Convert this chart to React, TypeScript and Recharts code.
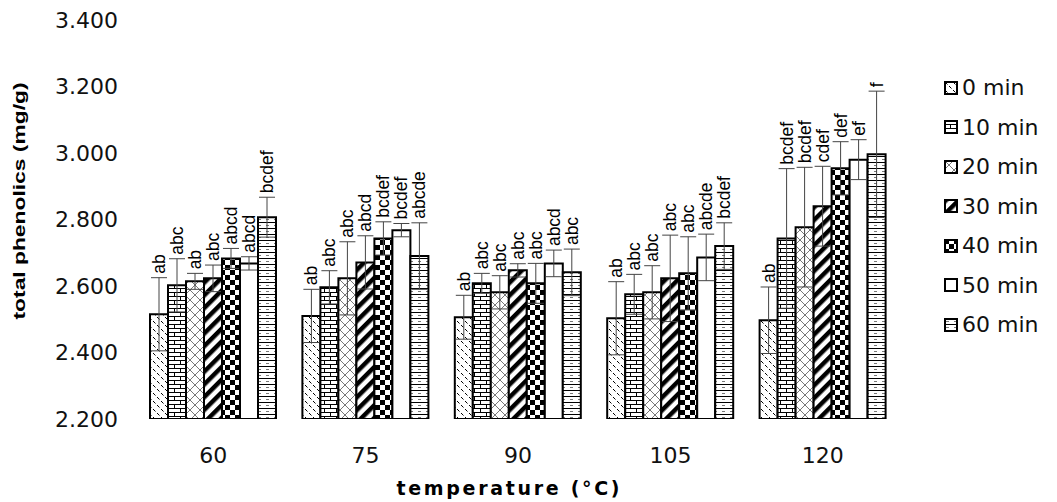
import { BarChart, Bar, XAxis, YAxis, ErrorBar, LabelList } from "recharts";

const temps = ["60", "75", "90", "105", "120"];
const times = ["0 min", "10 min", "20 min", "30 min", "40 min", "50 min", "60 min"];

// mean total phenolics per holding time, one entry per temperature
const min0 = [2.515, 2.51, 2.506, 2.503, 2.497];
const min10 = [2.602, 2.596, 2.608, 2.575, 2.743];
const min20 = [2.614, 2.623, 2.581, 2.581, 2.777];
const min30 = [2.623, 2.671, 2.647, 2.623, 2.84];
const min40 = [2.683, 2.743, 2.608, 2.638, 2.954];
const min50 = [2.668, 2.768, 2.668, 2.686, 2.98];
const min60 = [2.807, 2.69, 2.641, 2.72, 2.996];

const err0 = [0.11, 0.08, 0.066, 0.11, 0.1];
const err10 = [0.08, 0.05, 0.03, 0.06, 0.21];
const err20 = [0.024, 0.11, 0.05, 0.08, 0.18];
const err30 = [0.04, 0.08, 0.02, 0.13, 0.12];
const err40 = [0.03, 0.05, 0.06, 0.11, 0.08];
const err50 = [0.02, 0.02, 0.04, 0.07, 0.06];
const err60 = [0.06, 0.1, 0.07, 0.07, 0.19];

const lab0 = ["ab", "ab", "ab", "ab", "ab"];
const lab10 = ["abc", "abc", "abc", "abc", "bcdef"];
const lab20 = ["ab", "abc", "abc", "abc", "bcdef"];
const lab30 = ["abc", "abcd", "abc", "abc", "cdef"];
const lab40 = ["abcd", "bcdef", "abc", "abc", "def"];
const lab50 = ["abcd", "bcdef", "abcd", "abcde", "ef"];
const lab60 = ["bcdef", "abcde", "abc", "bcdef", "f"];

const yTicks = [2.2, 2.4, 2.6, 2.8, 3.0, 3.2, 3.4];

const means = [min0, min10, min20, min30, min40, min50, min60];
const errs = [err0, err10, err20, err30, err40, err50, err60];
const labs = [lab0, lab10, lab20, lab30, lab40, lab50, lab60];

const data = temps.map((t, i) => {
  const row: Record<string, any> = { temp: t };
  means.forEach((m, s) => {
    row["m" + s] = m[i];
    row["e" + s] = errs[s][i];
    row["l" + s] = labs[s][i];
  });
  return row;
});

const BASE = 2.2;
const FONT = "DejaVu Sans, Verdana, sans-serif";

function Patterns() {
  return (
    <defs>
      <pattern id="p0" width="8" height="8" patternUnits="userSpaceOnUse">
        <rect width="8" height="8" fill="#fff" />
        <line x1="1" y1="1" x2="3.5" y2="3.5" stroke="#000" strokeWidth="1" />
        <line x1="5" y1="5" x2="7.5" y2="7.5" stroke="#000" strokeWidth="1" />
      </pattern>
      <pattern id="p1" width="12" height="8" patternUnits="userSpaceOnUse">
        <rect width="12" height="8" fill="#fff" />
        <line x1="0" y1="0.5" x2="12" y2="0.5" stroke="#000" strokeWidth="1" />
        <line x1="0" y1="4.5" x2="12" y2="4.5" stroke="#000" strokeWidth="1" />
        <line x1="0.5" y1="0" x2="0.5" y2="4" stroke="#000" strokeWidth="1" />
        <line x1="6.5" y1="4" x2="6.5" y2="8" stroke="#000" strokeWidth="1" />
      </pattern>
      <pattern id="p2" width="10" height="10" patternUnits="userSpaceOnUse">
        <rect width="10" height="10" fill="#fff" />
        <line x1="0" y1="0" x2="10" y2="10" stroke="#555" strokeWidth="0.8" />
        <line x1="10" y1="0" x2="0" y2="10" stroke="#555" strokeWidth="0.8" />
      </pattern>
      <pattern id="p3" width="9" height="9" patternUnits="userSpaceOnUse" patternTransform="rotate(-45)">
        <rect width="9" height="9" fill="#fff" />
        <rect x="0" y="0" width="9" height="4.5" fill="#000" />
      </pattern>
      <pattern id="p4" width="10" height="10" patternUnits="userSpaceOnUse">
        <rect width="10" height="10" fill="#fff" />
        <rect x="0" y="0" width="5" height="5" fill="#000" />
        <rect x="5" y="5" width="5" height="5" fill="#000" />
      </pattern>
      <pattern id="p5" width="4" height="4" patternUnits="userSpaceOnUse">
        <rect width="4" height="4" fill="#fff" />
      </pattern>
      <pattern id="p6" width="8" height="6" patternUnits="userSpaceOnUse">
        <rect width="8" height="6" fill="#fff" />
        <line x1="0" y1="0.5" x2="8" y2="0.5" stroke="#000" strokeWidth="1" />
        <line x1="2" y1="3.5" x2="5" y2="3.5" stroke="#555" strokeWidth="0.8" />
      </pattern>
    </defs>
  );
}

function makeLabel(s: number) {
  return (props: any) => {
    const { x, y, width, height, index } = props;
    const v = means[s][index];
    const k = height / (v - BASE);
    const errPx = errs[s][index] * k;
    const cx = x + width / 2;
    const ty = y - errPx - 4;
    return (
      <text
        x={cx}
        y={ty}
        transform={`rotate(-90 ${cx} ${ty})`}
        dominantBaseline="central"
        textAnchor="start"
        fontFamily="Liberation Sans, Arial, sans-serif"
        fontSize={17.5}
        fill="#000"
      >
        {labs[s][index]}
      </text>
    );
  };
}

function LegendBox() {
  return (
    <div style={{ position: "absolute", left: 944, top: 68, fontFamily: FONT, fontSize: 22 }}>
      {times.map((t, i) => (
        <div key={t} style={{ display: "flex", alignItems: "center", height: 39.5 }}>
          <svg width="14" height="14" style={{ marginRight: 4 }}>
            <rect x="1" y="1" width="12" height="12" fill={`url(#p${i})`} stroke="#000" strokeWidth="2" />
          </svg>
          <span style={{ color: "#111" }}>{t}</span>
        </div>
      ))}
    </div>
  );
}

export default function App() {
  return (
    <div style={{ position: "absolute", left: 0, top: 0, width: 1057, height: 502, background: "#fff" }}>
      <BarChart
        width={1057}
        height={502}
        data={data}
        margin={{ top: 20, right: 158, left: 0, bottom: 0 }}
        barCategoryGap={13}
        barGap={0}
      >
        <Patterns />
        <XAxis
          dataKey="temp"
          height={83}
          axisLine={false}
          tickLine={false}
          tickSize={0}
          tickMargin={28}
          tick={{ fontSize: 22, fill: "#111", fontFamily: FONT }}
        />
        <YAxis
          width={137}
          domain={[2.2, 3.4]}
          ticks={yTicks}
          allowDataOverflow
          axisLine={false}
          tickLine={false}
          tickSize={0}
          tickMargin={19}
          tickFormatter={(v: number) => v.toFixed(3)}
          tick={{ fontSize: 22, fill: "#111", fontFamily: FONT }}
        />
        {times.map((t, s) => (
          <Bar
            key={t}
            dataKey={"m" + s}
            name={t}
            fill={`url(#p${s})`}
            stroke="#000"
            strokeWidth={2}
            isAnimationActive={false}
          >
            <ErrorBar dataKey={"e" + s} width={8} stroke="#444" strokeWidth={1} direction="y" />
            <LabelList dataKey={"l" + s} content={makeLabel(s)} />
          </Bar>
        ))}
        <text
          x={19}
          y={201}
          transform="rotate(-90 19 201)"
          textAnchor="middle"
          dominantBaseline="central"
          fontFamily="Liberation Sans, Arial, sans-serif"
          fontWeight="bold"
          fontSize={16}
          textLength={237}
          lengthAdjust="spacingAndGlyphs"
          fill="#000"
        >
          total phenolics (mg/g)
        </text>
        <text
          x={508}
          y={488}
          textAnchor="middle"
          dominantBaseline="central"
          fontFamily={FONT}
          fontWeight="bold"
          fontSize={19}
          textLength={223}
          lengthAdjust="spacing"
          fill="#000"
        >
          temperature (°C)
        </text>
      </BarChart>
      <LegendBox />
    </div>
  );
}
